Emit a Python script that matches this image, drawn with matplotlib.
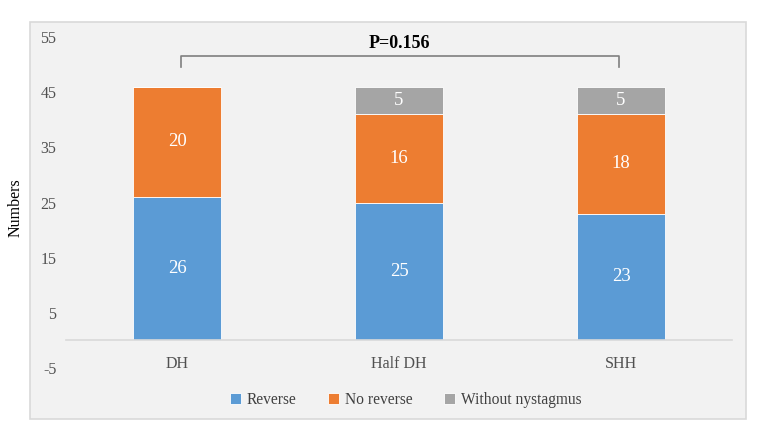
import matplotlib.pyplot as plt
from matplotlib.patches import Rectangle

plt.rcParams['font.family'] = ['Liberation Serif', 'DejaVu Serif']
plt.rcParams['axes.unicode_minus'] = False

groups = ['DH', 'Half DH', 'SHH']
reverse = [26, 25, 23]
no_reverse = [20, 16, 18]
without_nys = [0, 5, 5]
series_names = ['Reverse', 'No reverse', 'Without nystagmus']
colors = ['#5B9BD5', '#ED7D31', '#A5A5A5']
p_text = 'P=0.156'

fig = plt.figure(figsize=(7.65, 4.38), dpi=100)
fig.patches.append(Rectangle((0.0392, 0.0434), 0.9358, 0.9064, transform=fig.transFigure,
                             facecolor='#F2F2F2', edgecolor='#D9D9D9', linewidth=1.2, zorder=-1))
ax = fig.add_axes([0.0863, 0.1598, 0.8706, 0.7557])
ax.set_facecolor('none')
ax.set_zorder(2)

x = list(range(len(groups)))
bottom = [0] * len(groups)
for vals, name, c in zip([reverse, no_reverse, without_nys], series_names, colors):
    bars = ax.bar(x, vals, 0.4, bottom=bottom, color=c, label=name, edgecolor='white', linewidth=0.6)
    labels = [str(v) if v else '' for v in vals]
    ax.bar_label(bars, labels=labels, label_type='center', color='white', fontsize=13.5)
    bottom = [b + v for b, v in zip(bottom, vals)]

ax.set_xlim(-0.5, 2.5)
ax.set_ylim(-5, 55)
ax.set_yticks(range(-5, 56, 10))
ax.set_xticks(x)
ax.set_xticklabels(groups)
ax.tick_params(axis='both', length=0, labelsize=11.5, labelcolor='#505050')
ax.tick_params(axis='y', pad=7)
ax.tick_params(axis='x', pad=11)
for s in ['left', 'right', 'top']:
    ax.spines[s].set_visible(False)
ax.spines['bottom'].set_position(('data', 0))
ax.spines['bottom'].set_color('#D9D9D9')
ax.spines['bottom'].set_linewidth(1.2)

# significance bracket
ax.plot([0.02, 0.02, 1.99, 1.99], [49.5, 51.5, 51.5, 49.5], color='#7F7F7F', lw=1.2, clip_on=False)
ax.text(1, 53.8, p_text, ha='center', va='center', fontsize=13, fontweight='bold')

fig.text(0.02, 0.525, 'Numbers', rotation=90, ha='center', va='center', fontsize=11.5)

leg = fig.legend(loc='center', bbox_to_anchor=(0.53, 0.087), ncol=3, frameon=False,
                 fontsize=11.2, handlelength=0.75, handleheight=0.75, handletextpad=0.35,
                 columnspacing=2.0, labelcolor='#404040')
leg.set_zorder(3)

fig.savefig('out.png', dpi=100)
